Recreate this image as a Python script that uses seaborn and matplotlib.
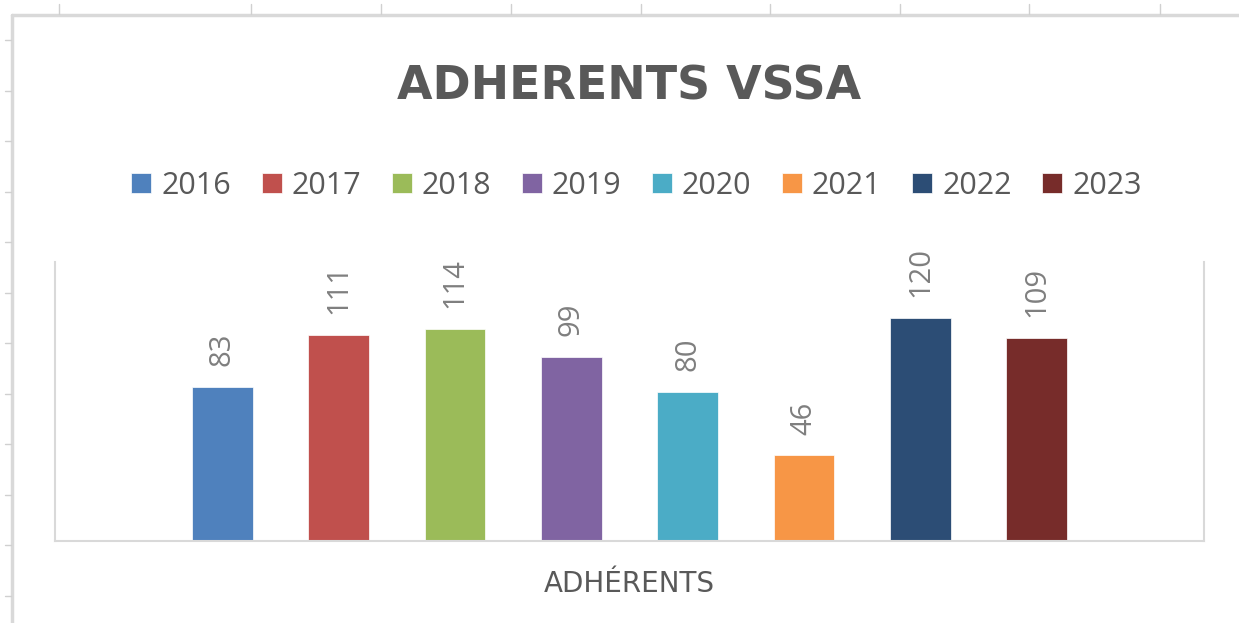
import matplotlib
matplotlib.use("Agg")
from matplotlib import pyplot as plt
from matplotlib.lines import Line2D
import pandas as pd
import seaborn as sns

# style général
sns.set_style("white")
plt.rcParams['font.family'] = ['Open Sans', 'DejaVu Sans']
plt.rcParams['axes.unicode_minus'] = False

# données
annees = ['2016', '2017', '2018', '2019', '2020', '2021', '2022', '2023']
adherents = [83, 111, 114, 99, 80, 46, 120, 109]
categorie = ['ADHÉRENTS'] * len(annees)
couleurs = ['#4F81BD', '#C0504D', '#9BBB59', '#8064A2',
            '#4BACC6', '#F79646', '#2C4D75', '#772C2A']

df = pd.DataFrame({
    "Catégorie": categorie,
    "Année": annees,
    "Adhérents": adherents
})

gris_texte = '#595959'
gris_ligne = '#D9D9D9'

fig = plt.figure(figsize=(12.39, 6.23), dpi=100)
ax = fig.add_axes([55 / 1239, 1 - 541 / 623, 1149 / 1239, 279 / 623])

sns.barplot(data=df, x="Catégorie", y="Adhérents", hue="Année",
            palette=couleurs, saturation=1, width=0.81, gap=0.48,
            edgecolor='white', linewidth=0.5, ax=ax)

# étiquettes de données verticales
for c in ax.containers:
    ax.bar_label(c, rotation=90, padding=15, fontsize=21, color='#7F7F7F')

ax.set_ylim(0, 150)
ax.set_xlim(-0.5, 0.5)
ax.set_xlabel("")
ax.set_ylabel("")
ax.set_yticks([])
ax.tick_params(axis='x', length=0, pad=21, labelsize=20, labelcolor=gris_texte)
for lab in ax.get_xticklabels():
    lab.set_family(['DejaVu Sans'])

for s in ['left', 'right', 'bottom']:
    ax.spines[s].set_color(gris_ligne)
    ax.spines[s].set_linewidth(1.5)
ax.spines['top'].set_visible(False)

# légende horizontale
sns.move_legend(ax, "center", bbox_to_anchor=(636.5 / 1239, 1 - 186 / 623),
                bbox_transform=fig.transFigure, ncol=8, frameon=False, title=None,
                fontsize=22, handlelength=0.65, handleheight=0.65,
                handletextpad=0.33, columnspacing=1.0, labelcolor=gris_texte)

# titre
fig.text(629 / 1239, 1 - 100 / 623, "ADHERENTS VSSA", ha='center', va='baseline',
         fontsize=33, fontweight='bold', color=gris_texte, family=['DejaVu Sans'])

# cadre de la feuille de calcul en arrière-plan
fig.add_artist(Line2D([12 / 1239, 1], [1 - 15 / 623, 1 - 15 / 623],
                      transform=fig.transFigure, color=gris_ligne, lw=2.5))
fig.add_artist(Line2D([12 / 1239, 12 / 1239], [0, 1 - 15 / 623],
                      transform=fig.transFigure, color=gris_ligne, lw=2.5))
for x in [59, 251, 381, 511, 641, 770, 900, 1029, 1160]:
    fig.add_artist(Line2D([x / 1239, x / 1239], [1 - 4 / 623, 1 - 14 / 623],
                          transform=fig.transFigure, color='#D0D0D0', lw=1))
for y in [40, 91, 141, 192, 242, 293, 343, 394, 444, 495, 545, 596]:
    fig.add_artist(Line2D([5 / 1239, 11 / 1239], [1 - y / 623, 1 - y / 623],
                          transform=fig.transFigure, color='#D0D0D0', lw=1))

plt.savefig("out.png", dpi=100)
